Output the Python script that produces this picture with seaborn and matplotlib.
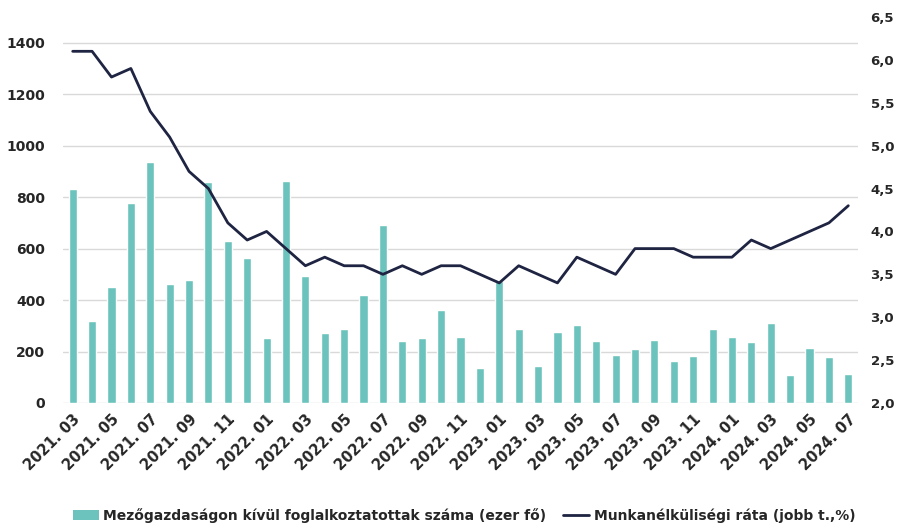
import numpy as np
import pandas as pd
import seaborn as sns
from matplotlib import pyplot as plt
from matplotlib.patches import Patch
from matplotlib.lines import Line2D

# havi adatok 2021.03 - 2024.07
months = []
for y in range(2021, 2025):
    for m in range(1, 13):
        if (y == 2021 and m < 3) or (y == 2024 and m > 7):
            continue
        months.append(f"{y}. {m:02d}")

employed = [830, 318, 451, 778, 936, 463, 478, 859, 630, 565,
            251, 862, 493, 272, 286, 419, 690, 241, 254, 362,
            257, 135, 476, 286, 145, 276, 302, 240, 185, 210,
            246, 165, 183, 289, 257, 237, 310, 108, 214, 180, 114]
unemp_rate = [6.1, 6.1, 5.8, 5.9, 5.4, 5.1, 4.7, 4.5, 4.1, 3.9,
              4.0, 3.8, 3.6, 3.7, 3.6, 3.6, 3.5, 3.6, 3.5, 3.6,
              3.6, 3.5, 3.4, 3.6, 3.5, 3.4, 3.7, 3.6, 3.5, 3.8,
              3.8, 3.8, 3.7, 3.7, 3.7, 3.9, 3.8, 3.9, 4.0, 4.1, 4.3]

bar_label = 'Mezőgazdaságon kívül foglalkoztatottak száma (ezer fő)'
line_label = 'Munkanélküliségi ráta (jobb t.,%)'

bar_color = '#6cc3bd'
line_color = '#1e2441'

df = pd.DataFrame({'month': months, 'employed': employed, 'rate': unemp_rate})
df['pos'] = np.arange(len(df))

sns.set_style('white')
plt.rcParams['font.family'] = ['DejaVu Sans']
plt.rcParams['font.weight'] = 'bold'

fig = plt.figure(figsize=(9.01, 5.24), dpi=100)
ax = fig.add_axes([63 / 901, 1 - 403 / 524, (858 - 63) / 901, (403 - 17) / 524])

sns.barplot(data=df, x='month', y='employed', color=bar_color, width=0.42,
            saturation=1, ax=ax, zorder=2)
ax.set_ylim(0, 1500)
ax.set_yticks(range(0, 1401, 200))
ax.yaxis.grid(True, color='#d9d9d9', linewidth=1)
ax.set_axisbelow(True)
ax.set_xlim(-0.5, len(df) - 0.5)
ax.set_xticks(df['pos'][::2])
ax.set_xticklabels(df['month'][::2], rotation=45, ha='right',
                   rotation_mode='anchor', fontsize=10.5, fontweight='bold')
ax.tick_params(axis='y', labelsize=10, length=0, pad=13)
ax.tick_params(axis='x', length=0, pad=6)
ax.set_xlabel('')
ax.set_ylabel('')
for s in ax.spines.values():
    s.set_visible(False)

ax2 = ax.twinx()
sns.lineplot(data=df, x='pos', y='rate', color=line_color, linewidth=2.0, ax=ax2)
ax2.set_ylim(2.0, 6.5)
ax2.set_yticks(np.arange(2.0, 6.51, 0.5))
ax2.set_yticklabels([f"{v:.1f}".replace('.', ',') for v in np.arange(2.0, 6.51, 0.5)])
ax2.tick_params(axis='y', labelsize=9.5, length=0, pad=9)
ax2.set_xlim(-0.5, len(df) - 0.5)
ax2.set_ylabel('')
ax2.set_xlabel('')
ax2.grid(False)
for s in ax2.spines.values():
    s.set_visible(False)

handles = [Patch(facecolor=bar_color, edgecolor='none'),
           Line2D([0], [0], color=line_color, linewidth=2.0)]
fig.legend(handles, [bar_label, line_label], loc='lower center',
           bbox_to_anchor=(0.515, -0.022), ncol=2, frameon=False,
           fontsize=10, handlelength=1.9, handletextpad=0.3, columnspacing=1.2)

fig.savefig('out.png', dpi=100)
